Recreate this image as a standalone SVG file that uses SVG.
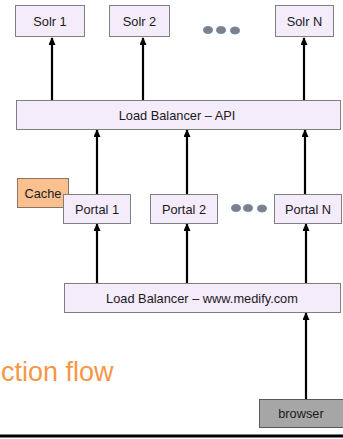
<svg xmlns="http://www.w3.org/2000/svg" width="343" height="439" viewBox="0 0 343 439">
<defs>
<style>
.box{fill:#f4ebfb;stroke:#7f7f7f;stroke-width:1}
.lbl{font-family:"Liberation Sans",Arial,sans-serif;font-size:12.8px;fill:#1a1a1a;text-anchor:middle}
.cn{stroke:#000;stroke-width:2.2;fill:none}
.dot{fill:#808080;stroke:#5b86c5;stroke-width:0.8}
</style>
<marker id="ah" markerWidth="8" markerHeight="7" refX="7" refY="3.5" orient="auto" markerUnits="userSpaceOnUse" viewBox="0 0 8 7">
<path d="M0,0 L8,3.5 L0,7 Z" fill="#000"/>
</marker>
</defs>
<rect width="343" height="439" fill="#fff"/>
<g id="connectors">
<line class="cn" x1="52" y1="100" x2="52" y2="38" marker-end="url(#ah)" />
<line class="cn" x1="143" y1="100" x2="143" y2="38" marker-end="url(#ah)" />
<line class="cn" x1="304" y1="100" x2="304" y2="38" marker-end="url(#ah)" />
<line class="cn" x1="97" y1="194" x2="97" y2="130" marker-end="url(#ah)" />
<line class="cn" x1="187" y1="194" x2="187" y2="130" marker-end="url(#ah)" />
<line class="cn" x1="305" y1="194" x2="305" y2="130" marker-end="url(#ah)" />
<line class="cn" x1="97" y1="283" x2="97" y2="224" marker-end="url(#ah)" />
<line class="cn" x1="187" y1="283" x2="187" y2="224" marker-end="url(#ah)" />
<line class="cn" x1="306" y1="283" x2="306" y2="224" marker-end="url(#ah)" />
<line class="cn" x1="306" y1="399" x2="306" y2="313" marker-end="url(#ah)" />
</g>
<g id="solr1"><rect class="box" x="15.5" y="5.5" width="69" height="31"/><text class="lbl" x="50" y="25.5">Solr 1</text></g>
<g id="solr2"><rect class="box" x="109.5" y="5.5" width="60" height="31"/><text class="lbl" x="139.5" y="25.5">Solr 2</text></g>
<g id="solrdots"><ellipse class="dot" cx="208" cy="30" rx="4.5" ry="3.5"/><ellipse class="dot" cx="221" cy="30" rx="4.5" ry="3.5"/><ellipse class="dot" cx="235" cy="30.5" rx="4.5" ry="3.5"/></g>
<g id="solrN"><rect class="box" x="275.5" y="5.5" width="58" height="31"/><text class="lbl" x="304.5" y="25.5">Solr N</text></g>
<g id="lbapi"><rect class="box" x="16.5" y="100.5" width="324" height="29"/><text class="lbl" x="177" y="119.5">Load Balancer – API</text></g>
<g id="cache"><rect x="17.5" y="178.5" width="51" height="29" fill="#fac08f" stroke="#8c7460" stroke-width="1"/><text class="lbl" x="43" y="197.5">Cache</text></g>
<g id="portal1"><rect class="box" x="63.5" y="194.5" width="67" height="29"/><text class="lbl" x="97" y="214">Portal 1</text></g>
<g id="portal2"><rect class="box" x="150.5" y="194.5" width="67" height="29"/><text class="lbl" x="184" y="214">Portal 2</text></g>
<g id="portaldots"><ellipse class="dot" cx="236" cy="208" rx="4.5" ry="3.5"/><ellipse class="dot" cx="248" cy="208" rx="4.5" ry="3.5"/><ellipse class="dot" cx="262" cy="208.5" rx="4.5" ry="3.5"/></g>
<g id="portalN"><rect class="box" x="274.5" y="194.5" width="67" height="29"/><text class="lbl" x="308" y="214">Portal N</text></g>
<g id="lbwww"><rect class="box" x="64.5" y="283.5" width="276" height="29"/><text class="lbl" x="202" y="303">Load Balancer – www.medify.com</text></g>
<g id="title"><text x="1" y="381" font-family="'Liberation Sans',Arial,sans-serif" font-size="27" fill="#f79646">ction flow</text></g>
<g id="browser"><rect x="259.5" y="399.5" width="84" height="28" fill="#a6a6a6" stroke="#595959" stroke-width="1"/><text class="lbl" x="301" y="418">browser</text></g>
<line x1="0" y1="436" x2="343" y2="436" stroke="#000" stroke-width="3"/>
</svg>
